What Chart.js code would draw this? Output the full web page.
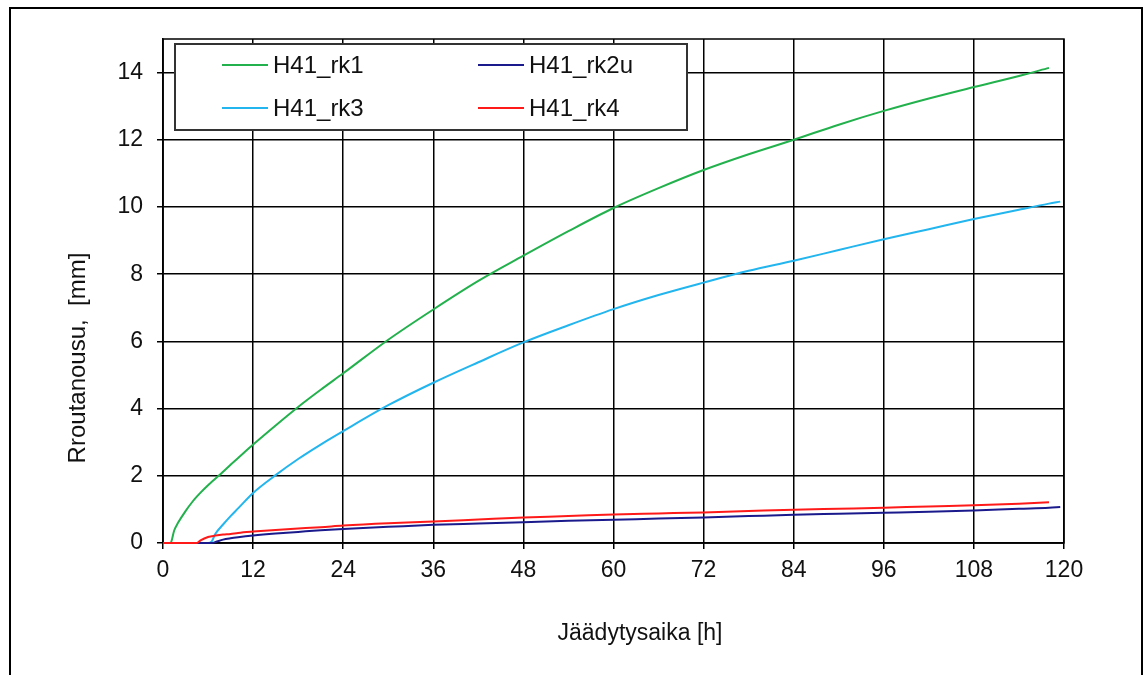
<!DOCTYPE html>
<html>
<head>
<meta charset="utf-8">
<script src="https://cdn.jsdelivr.net/npm/chart.js@4/dist/chart.umd.min.js"></script>
<style>
  html, body { margin: 0; padding: 0; background: #fff; }
  #wrap { width: 1144px; height: 675px; }
</style>
</head>
<body>
<div id="wrap"><canvas id="graphe" width="1144" height="675"></canvas></div>
<script>
// Routanousu vs. jäädytysaika

const tunnit = [0, 1, 1.5, 2, 3, 4, 4.5, 5, 6, 6.5, 7, 8, 9, 10, 12, 15, 18, 21, 24, 30, 36, 42, 48, 54, 60, 66, 72, 78, 84, 90, 96, 102, 108, 114, 118, 119.5];

const rk1 = [0, 0, 0.38, 0.6, 0.95, 1.25, 1.38, 1.5, 1.72, 1.82, 1.92, 2.12, 2.33, 2.53, 2.93, 3.5, 4.05, 4.56, 5.05, 6.05, 6.95, 7.8, 8.55, 9.28, 9.97, 10.56, 11.1, 11.57, 12.0, 12.45, 12.86, 13.23, 13.57, 13.9, 14.14, null];
const rk2u = [0, 0, 0, 0, 0, 0, 0, 0, 0, 0, 0.03, 0.1, 0.14, 0.17, 0.22, 0.28, 0.33, 0.38, 0.42, 0.48, 0.54, 0.58, 0.62, 0.66, 0.69, 0.73, 0.76, 0.8, 0.84, 0.87, 0.9, 0.93, 0.97, 1.02, 1.05, 1.07];
const rk3 = [0, 0, 0, 0, 0, 0, 0, 0, 0, 0.05, 0.28, 0.55, 0.8, 1.03, 1.49, 2.02, 2.5, 2.93, 3.33, 4.1, 4.77, 5.38, 5.97, 6.48, 6.96, 7.38, 7.75, 8.1, 8.4, 8.72, 9.04, 9.34, 9.64, 9.92, 10.1, 10.16];
const rk4 = [0, 0, 0, 0, 0, 0, 0, 0.08, 0.18, 0.2, 0.22, 0.25, 0.27, 0.3, 0.34, 0.39, 0.43, 0.47, 0.52, 0.59, 0.64, 0.7, 0.76, 0.8, 0.85, 0.88, 0.91, 0.95, 0.99, 1.02, 1.05, 1.09, 1.12, 1.17, 1.21, null];

const sarjat = ["H41_rk1", "H41_rk2u", "H41_rk3", "H41_rk4"];
const varit = ["#22B14C", "#1A1A8C", "#22B5EE", "#FF1A1A"];

const xTitle = "Jäädytysaika [h]";
const yTitle = "Rroutanousu,  [mm]";

const FONT = "'Liberation Sans', Arial, sans-serif";

function pisteet(arvot) {
  return tunnit.map((t, i) => ({ x: t, y: arvot[i] })).filter((p) => p.y !== null);
}

const kehys = {
  id: "kehys",
  beforeDraw(chart) {
    const ctx = chart.ctx;
    ctx.save();
    ctx.fillStyle = "#fff";
    ctx.fillRect(0, 0, chart.width, chart.height);
    ctx.strokeStyle = "#000";
    ctx.lineWidth = 2;
    ctx.strokeRect(10, 8, 1132, 700);
    ctx.restore();
  },
  beforeDatasetsDraw(chart) {
    // plot border (under the data lines)
    const ctx = chart.ctx;
    const a = chart.chartArea;
    ctx.save();
    ctx.strokeStyle = "#000";
    ctx.lineWidth = 1.5;
    ctx.strokeRect(a.left, a.top, a.right - a.left, a.bottom - a.top);
    ctx.restore();
  },
  afterDraw(chart) {
    const ctx = chart.ctx;
    ctx.save();
    // legend box
    ctx.fillStyle = "#fff";
    ctx.fillRect(175, 44, 512, 86);
    ctx.strokeStyle = "#333";
    ctx.lineWidth = 2;
    ctx.strokeRect(175, 44, 512, 86);
    const paikat = [[222, 65], [478, 65], [222, 108], [478, 108]];
    ctx.font = "24px " + FONT;
    ctx.textBaseline = "middle";
    ctx.textAlign = "left";
    sarjat.forEach((nimi, i) => {
      const [x, y] = paikat[i];
      ctx.strokeStyle = varit[i];
      ctx.lineWidth = 2;
      ctx.beginPath();
      ctx.moveTo(x, y);
      ctx.lineTo(x + 46, y);
      ctx.stroke();
      ctx.fillStyle = "#111";
      ctx.fillText(nimi, x + 51, y + 1);
    });

    // axis titles
    ctx.font = "23px " + FONT;
    ctx.fillStyle = "#111";
    ctx.textAlign = "center";
    ctx.fillText(xTitle, 640, 634);
    ctx.translate(78, 358);
    ctx.rotate(-Math.PI / 2);
    ctx.font = "24px " + FONT;
    ctx.fillText(yTitle, 0, 0);
    ctx.restore();
  },
};

new Chart(document.getElementById("graphe"), {
  type: "line",
  data: {
    datasets: [
      { label: sarjat[0], data: pisteet(rk1), borderColor: varit[0], order: 4 },
      { label: sarjat[1], data: pisteet(rk2u), borderColor: varit[1], order: 2 },
      { label: sarjat[2], data: pisteet(rk3), borderColor: varit[2], order: 3 },
      { label: sarjat[3], data: pisteet(rk4), borderColor: varit[3], order: 1 },
    ].map((d) => Object.assign(d, {
      borderWidth: 2,
      pointRadius: 0,
      fill: false,
      clip: 4,
      cubicInterpolationMode: "monotone",
    })),
  },
  options: {
    responsive: false,
    animation: false,
    layout: { padding: { top: 39, right: 80, left: 0, bottom: 0 } },
    plugins: { legend: { display: false }, tooltip: { enabled: false } },
    scales: {
      x: {
        type: "linear",
        min: 0,
        max: 120,
        ticks: { stepSize: 12, color: "#111", font: { size: 23, family: FONT }, padding: 8, maxRotation: 0 },
        grid: { color: "#000", lineWidth: 1.5, tickLength: 6, tickColor: "#000" },
        border: { color: "#000", width: 1.5 },
        afterFit: (s) => { s.height = 132; },
      },
      y: {
        min: 0,
        max: 15,
        ticks: { stepSize: 2, color: "#111", font: { size: 23, family: FONT }, padding: 14 },
        afterBuildTicks: (s) => { s.ticks = s.ticks.filter((t) => t.value % 2 === 0); },
        grid: { color: "#000", lineWidth: 1.5, tickLength: 6, tickColor: "#000" },
        border: { color: "#000", width: 1.5 },
        afterFit: (s) => { s.width = 163; },
      },
    },
  },
  plugins: [kehys],
});
</script>
</body>
</html>
